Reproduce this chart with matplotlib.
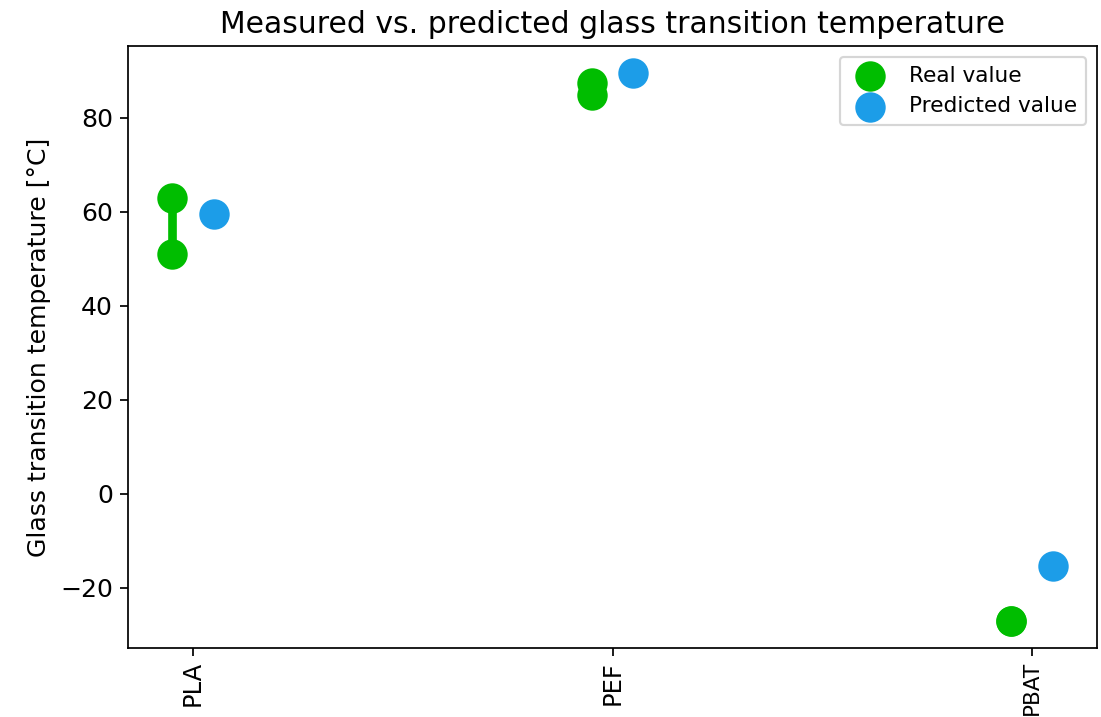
import numpy as np
import matplotlib
matplotlib.use("Agg")
import matplotlib.pyplot as plt

# Glass transition temperatures (°C)
materials = ["PLA", "PEF", "PBAT"]
real_low = [51.0, 85.0, -27.0]
real_high = [63.0, 87.5, -27.0]
predicted = [59.6, 89.5, -15.3]

green = "#00bd00"
blue = "#1c9de8"

dpi = 156
fig = plt.figure(figsize=(1101 / dpi, 717 / dpi), dpi=dpi)
ax = fig.add_axes([128 / 1101, 1 - 648 / 717, (1097 - 128) / 1101, (648 - 46) / 717])

x = np.arange(len(materials))
offset = 0.05

# measured range: a thick bar between the reported low and high values
for xi, lo, hi in zip(x, real_low, real_high):
    ax.plot([xi - offset, xi - offset], [lo, hi], color=green, lw=4, solid_capstyle="butt", zorder=2)

ax.scatter(np.r_[x - offset, x - offset], np.r_[real_low, real_high],
           s=170, color=green, label="Real value", zorder=3)
ax.scatter(x + offset, predicted, s=170, color=blue, label="Predicted value", zorder=3)

ax.legend(loc="upper right", fontsize=10)

ax.set_xticks(x)
ax.set_xticklabels(materials, rotation=90)
ax.tick_params(axis="y", labelsize=11.6)
ax.tick_params(axis="x", labelsize=11.2, pad=2.5)
ax.get_xticklabels()[-1].set_fontsize(10)
ax.set_ylabel("Glass transition temperature [°C]", fontsize=11.6)
ax.set_title("Measured vs. predicted glass transition temperature", fontsize=13.8)

fig.savefig("out.png", dpi=dpi)
